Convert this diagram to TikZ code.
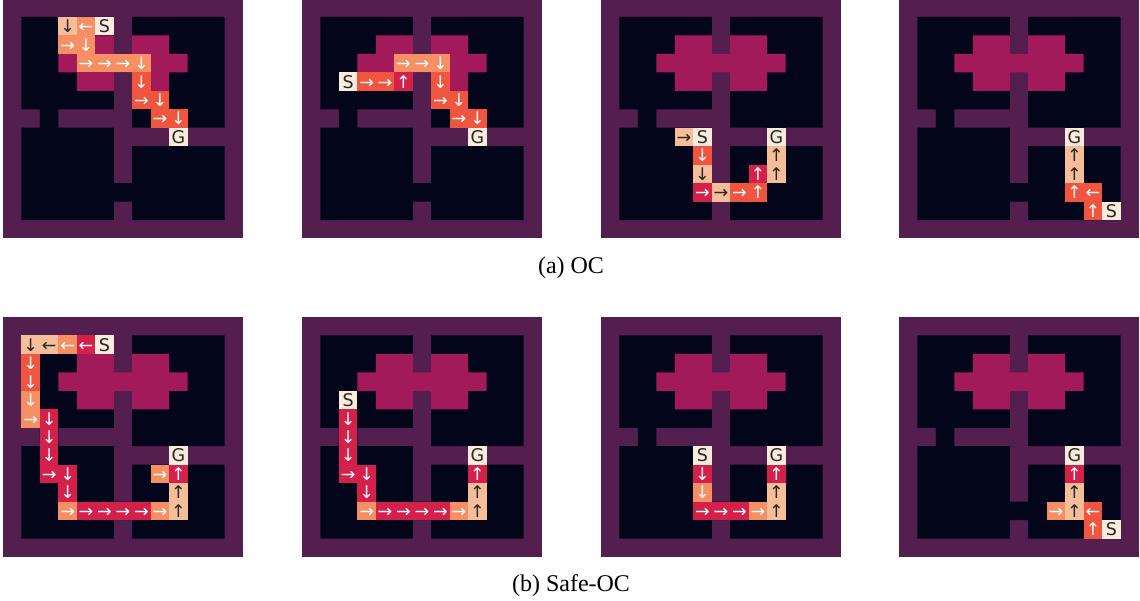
\documentclass[tikz,border=0pt]{standalone}
\usepackage{xcolor}
\usepackage{fontspec}
\setmainfont{Liberation Serif}
\newfontfamily\gridfont{DejaVu Sans}
\definecolor{GridVoid}{RGB}{3, 5, 26}
\definecolor{GridWall}{RGB}{82, 31, 78}
\definecolor{GridLava}{RGB}{163, 26, 91}
\definecolor{PathCrimson}{RGB}{211, 33, 75}
\definecolor{PathFlame}{RGB}{240, 85, 63}
\definecolor{PathOrange}{RGB}{246, 143, 100}
\definecolor{PathPeach}{RGB}{246, 190, 152}
\definecolor{PathCream}{RGB}{250, 235, 221}
\definecolor{GlyphDark}{RGB}{38, 38, 38}
\tikzset{
    tile/.style={minimum size=18.46pt, inner sep=0pt, outer sep=0pt, text height=13pt, text depth=0pt,
          font=\gridfont\fontsize{17.5}{18}\selectfont},
    tcr/.style={tile, fill=PathCrimson, text=white},
    tfl/.style={tile, fill=PathFlame, text=white},
    tog/.style={tile, fill=PathOrange, text=white},
    tpe/.style={tile, fill=PathPeach, text=GlyphDark},
    tce/.style={tile, fill=PathCream, text=GlyphDark},
    caption/.style={font=\fontsize{24}{26}\selectfont, text=black, inner sep=0pt}
}
\newcommand{\mazepanel}[4]{
    \begin{scope}[shift={(#2pt,-#3pt)}, x=18.46pt, y=-18.46pt]
        \fill[GridWall] (0,0) rectangle (13,13);
        \fill[GridVoid] (1,1) rectangle (6,6) (7,1) rectangle (12,7)
            (1,7) rectangle (6,12) (7,8) rectangle (12,12)
            (2,6) rectangle (3,7) (6,10) rectangle (7,11) (9,7) rectangle (10,8);
        \fill[GridLava] (4,2) rectangle (6,5) (7,2) rectangle (9,5) (3,3) rectangle (10,4);
        \foreach \c/\r/\kind/\mark in {#4} {
            \node[\kind] (#1-\c-\r) at (\c+0.5,\r+0.5) {\mark};
        }
    \end{scope}
}
\begin{document}
\begin{tikzpicture}
    \useasboundingbox (0,0) rectangle (1140pt,-601pt);
    \mazepanel{aone}{3}{-1.5}{3/1/tpe/↓, 4/1/tog/←, 5/1/tce/S, 3/2/tog/→, 4/2/tog/↓,
        4/3/tog/→, 5/3/tog/→, 6/3/tog/→, 7/3/tog/↓, 7/4/tfl/↓, 7/5/tfl/→, 8/5/tfl/↓,
        8/6/tfl/→, 9/6/tfl/↓, 9/7/tce/G}
    \mazepanel{atwo}{302}{-1.5}{5/3/tog/→, 6/3/tog/→, 7/3/tog/↓, 2/4/tce/S, 3/4/tfl/→, 4/4/tfl/→,
        5/4/tcr/↑, 7/4/tfl/↓, 7/5/tfl/→, 8/5/tfl/↓, 8/6/tfl/→, 9/6/tfl/↓, 9/7/tce/G}
    \mazepanel{athree}{601}{-1.5}{4/7/tpe/→, 5/7/tce/S, 9/7/tce/G, 5/8/tfl/↓, 9/8/tpe/↑, 5/9/tpe/↓,
        8/9/tcr/↑, 9/9/tpe/↑, 5/10/tcr/→, 6/10/tpe/→, 7/10/tfl/→, 8/10/tfl/↑}
    \mazepanel{afour}{899}{-1.5}{9/7/tce/G, 9/8/tpe/↑, 9/9/tpe/↑, 9/10/tfl/↑, 10/10/tfl/←,
        10/11/tfl/↑, 11/11/tce/S}
    \mazepanel{bone}{3}{317}{1/1/tpe/↓, 2/1/tpe/←, 3/1/tog/←, 4/1/tcr/←, 5/1/tce/S, 1/2/tfl/↓, 1/3/tfl/↓,
        1/4/tog/↓, 1/5/tog/→, 2/5/tcr/↓, 2/6/tcr/↓, 2/7/tcr/↓, 2/8/tcr/→, 3/8/tcr/↓, 3/9/tcr/↓,
        3/10/tog/→, 4/10/tcr/→, 5/10/tcr/→, 6/10/tcr/→, 7/10/tcr/→, 8/10/tog/→, 9/10/tpe/↑,
        9/9/tpe/↑, 8/8/tog/→, 9/8/tcr/↑, 9/7/tce/G}
    \mazepanel{btwo}{302}{317}{2/4/tce/S, 2/5/tcr/↓, 2/6/tcr/↓, 2/7/tcr/↓, 2/8/tcr/→, 3/8/tcr/↓, 3/9/tcr/↓,
        3/10/tog/→, 4/10/tcr/→, 5/10/tcr/→, 6/10/tcr/→, 7/10/tcr/→, 8/10/tog/→, 9/10/tpe/↑,
        9/9/tpe/↑, 9/8/tcr/↑, 9/7/tce/G}
    \mazepanel{bthree}{601}{317}{5/7/tce/S, 9/7/tce/G, 5/8/tcr/↓, 9/8/tcr/↑, 5/9/tog/↓, 9/9/tpe/↑,
        5/10/tcr/→, 6/10/tcr/→, 7/10/tcr/→, 8/10/tog/→, 9/10/tpe/↑}
    \mazepanel{bfour}{899}{317}{9/7/tce/G, 9/8/tcr/↑, 9/9/tpe/↑, 8/10/tog/→, 9/10/tpe/↑, 10/10/tfl/←,
        10/11/tfl/↑, 11/11/tce/S}
    \node[caption] (capa) at (571pt,-268pt) {(a) OC};
    \node[caption] (capb) at (571pt,-586pt) {(b) Safe-OC};
\end{tikzpicture}
\end{document}
